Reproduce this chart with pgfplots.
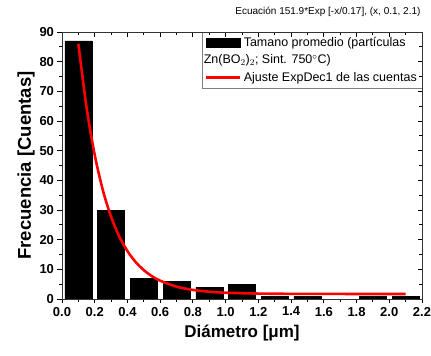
\documentclass[border=0pt]{standalone}
\usepackage{fontspec}
\setmainfont{Liberation Sans}
\usepackage{pgfplots}
\pgfplotsset{compat=1.18}
\begin{document}
\begin{tikzpicture}
\path[use as bounding box] (-62pt,-57pt) rectangle (369pt,299pt);
\begin{axis}[
  scale only axis,
  width=360pt, height=267pt,
  xmin=0, xmax=2.2, ymin=0, ymax=90,
  xtick={0,0.2,...,2.2},
  ytick={0,10,...,90},
  minor x tick num=1, minor y tick num=1,
  tick align=outside,
  major tick length=4.5pt, minor tick length=3pt,
  xtick pos=left, ytick pos=left,
  tick style={black, line width=0.9pt},
  axis line style={line width=0.8pt, black!80},
  /pgf/number format/assume math mode=true,
  xticklabel style={font=\fontsize{13}{13}\selectfont\bfseries, /pgf/number format/.cd, fixed, fixed zerofill, precision=1},
  yticklabel style={font=\fontsize{13}{13}\selectfont\bfseries},
  xlabel={Diámetro [μm]},
  ylabel={Frecuencia [Cuentas]},
  xlabel style={font=\fontsize{17}{17}\selectfont\bfseries, yshift=-2pt},
  ylabel style={font=\fontsize{18.5}{18.5}\selectfont\bfseries, yshift=-2pt},
  title={Ecuación 151.9*Exp [-x/0.17], (x, 0.1, 2.1)},
  title style={font=\fontsize{10}{10}\selectfont, at={(rel axis cs:1,1)}, anchor=south east, yshift=6pt, xshift=2pt},
  legend style={at={(rel axis cs:1,1)}, anchor=north east, draw=black!50, fill=white,
    font=\fontsize{12.5}{14}\selectfont, row sep=3pt, inner sep=3pt},
  legend cell align=left,
  legend image code/.code={},
]
\addplot[ybar, bar width=0.165, fill=black, draw=black,
  legend image code/.code={\fill[black] (0pt,-4.5pt) rectangle (34pt,4.5pt);}]
  coordinates {(0.1,87) (0.3,30) (0.5,7) (0.7,6) (0.9,4) (1.1,5) (1.3,1) (1.5,1) (1.9,1) (2.1,1)};
\addlegendentry{Tamano promedio (partículas}
\addlegendimage{empty legend}
\addlegendentry{\makebox[0pt][l]{\hspace*{-40pt}Zn(BO$_2$)$_2$; Sint. 750$^\circ$C)}}
\addplot[red, line width=2.6pt, smooth,
  legend image code/.code={\draw[red, line width=2.6pt] (0pt,0pt) -- (34pt,0pt);}]
  coordinates {(0.10,86.05) (0.15,64.56) (0.20,48.55) (0.25,36.61) (0.30,27.71) (0.35,21.08) (0.40,16.15) (0.45,12.47) (0.50,9.72) (0.55,7.67) (0.60,6.15) (0.70,4.17) (0.80,3.07) (0.90,2.46) (1.00,2.12) (1.20,1.83) (1.40,1.74) (1.60,1.71) (1.80,1.70) (2.00,1.70) (2.10,1.70)};
\addlegendentry{Ajuste ExpDec1 de las cuentas}
\end{axis}
\begin{axis}[
  scale only axis,
  width=360pt, height=267pt,
  xmin=0, xmax=2.2, ymin=0, ymax=90,
  xtick={0,0.2,...,2.2},
  ytick={0,10,...,90},
  minor x tick num=1, minor y tick num=1,
  tick align=inside,
  major tick length=4.5pt, minor tick length=3pt,
  xtick pos=right, ytick pos=right,
  xticklabels={}, yticklabels={},
  tick style={black, line width=0.9pt},
  axis line style={line width=0.8pt, black!80},
]
\end{axis}
\end{tikzpicture}
\end{document}
